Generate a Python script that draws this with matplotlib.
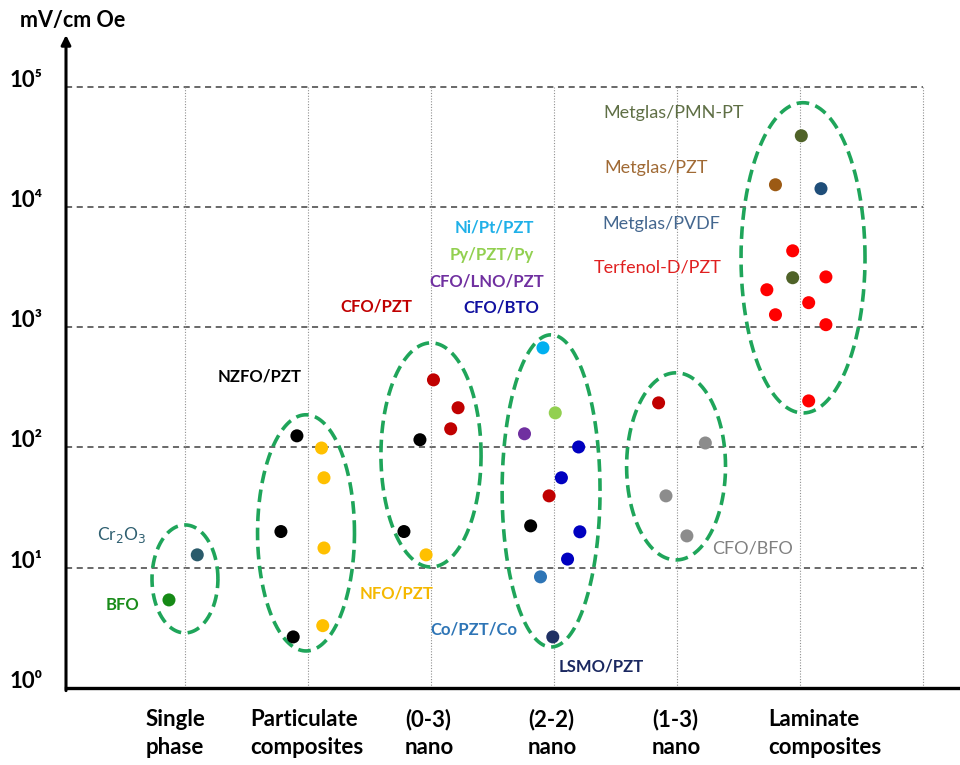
import numpy as np
import matplotlib
matplotlib.use("Agg")
import matplotlib.pyplot as plt

plt.rcParams['font.family'] = ['Lato', 'DejaVu Sans']

# ---------------- data ----------------
categories = ["Single\nphase", "Particulate\ncomposites", "(0-3)\nnano",
              "(2-2)\nnano", "(1-3)\nnano", "Laminate\ncomposites"]
yticks = [1, 10, 100, 1e3, 1e4, 1e5]
ytick_labels = ["10⁰", "10¹", "10²", "10³", "10⁴", "10⁵"]

bfo_x, bfo_y = [-0.13], [5.4]
cr2o3_x, cr2o3_y = [0.10], [12.8]
nzfo_x = [0.91, 0.78, 0.88, 1.91, 1.78, 2.81]
nzfo_y = [125, 20, 2.66, 116, 20, 22.3]
nfo_x = [1.11, 1.13, 1.13, 1.12, 1.96]
nfo_y = [99, 56, 14.6, 3.3, 12.8]
cfo_pzt_x = [2.02, 2.22, 2.16, 2.96, 3.85]
cfo_pzt_y = [365, 214, 143, 39.6, 235]
nipt_x, nipt_y = [2.91], [674]
py_x, py_y = [3.01], [194]
cfo_lno_x, cfo_lno_y = [2.76], [130]
cfo_bto_x = [3.20, 3.06, 3.21, 3.11]
cfo_bto_y = [101, 56, 19.9, 11.8]
co_x, co_y = [2.89], [8.4]
lsmo_x, lsmo_y = [2.99], [2.66]
cfo_bfo_x = [4.23, 3.91, 4.08]
cfo_bfo_y = [109, 39.6, 18.4]
mg_pmn_x, mg_pmn_y = [5.01, 4.94], [39100, 2580]
mg_pzt_x, mg_pzt_y = [4.80], [15300]
mg_pvdf_x, mg_pvdf_y = [5.17], [14200]
terf_x = [4.94, 5.21, 4.73, 5.07, 4.80, 5.21, 5.07]
terf_y = [4320, 2620, 2050, 1600, 1270, 1050, 244]

# ellipse groups: center x, half width, log10 center, half height (decades)
ell_cx = [0.0, 0.984, 2.0, 2.976, 3.992, 5.024]
ell_a = [0.268, 0.394, 0.407, 0.398, 0.402, 0.504]
ell_logc = [0.907, 1.290, 1.938, 1.639, 1.843, 3.577]
ell_b = [0.449, 0.982, 0.932, 1.298, 0.778, 1.290]

# ---------------- figure ----------------
fig = plt.figure(figsize=(9.6, 7.65), dpi=100)
ax = fig.add_axes([66/960, 77/765, 1 - 66/960, 653/765])
ax.set_yscale('log')
ax.set_xlim(-0.967, 6.3)
ax.set_ylim(1, 10**5.43)

# grid
for yv in yticks[1:]:
    ax.plot([-0.967, 6.0], [yv, yv], color='#404040', lw=1.1,
            dashes=(4, 3), zorder=1)
for xv in range(7):
    ax.plot([xv, xv], [1, 1e5], color='#909090', lw=0.8,
            ls=(0, (1, 1.5)), zorder=1)

# ellipses
t = np.linspace(0, 2*np.pi, 300)
for cx, a, lc, b in zip(ell_cx, ell_a, ell_logc, ell_b):
    ax.plot(cx + a*np.cos(t), 10**(lc + b*np.sin(t)), color='#1fa55a',
            lw=2.6, dashes=(3.5, 1.8), zorder=2)

series = [
    (bfo_x, bfo_y, '#168a16'),
    (cr2o3_x, cr2o3_y, '#2b5b6b'),
    (nzfo_x, nzfo_y, '#000000'),
    (nfo_x, nfo_y, '#ffc000'),
    (cfo_pzt_x, cfo_pzt_y, '#c00000'),
    (nipt_x, nipt_y, '#00b0f0'),
    (py_x, py_y, '#92d050'),
    (cfo_lno_x, cfo_lno_y, '#7030a0'),
    (cfo_bto_x, cfo_bto_y, '#0000c0'),
    (co_x, co_y, '#2e75b6'),
    (lsmo_x, lsmo_y, '#1f3064'),
    (cfo_bfo_x, cfo_bfo_y, '#8c8c8c'),
    (mg_pmn_x, mg_pmn_y, '#4f6228'),
    (mg_pzt_x, mg_pzt_y, '#9c5a14'),
    (mg_pvdf_x, mg_pvdf_y, '#1f4e79'),
    (terf_x, terf_y, '#ff0000'),
]
for xs, ys, c in series:
    ax.scatter(xs, ys, s=88, color=c, edgecolors='none', zorder=3)

# labels: text, x, log10(y), colour, weight, size
labels = [
    ("Cr$_2$O$_3$", -0.512, 1.273, '#2f5f70', 'normal', 12.5),
    ("BFO", -0.504, 0.691, '#1a8c1a', 'bold', 12),
    ("NZFO/PZT", 0.610, 2.587, '#000000', 'bold', 12),
    ("NFO/PZT", 1.724, 0.782, '#f5b800', 'bold', 12),
    ("CFO/PZT", 1.553, 3.170, '#c00000', 'bold', 12),
    ("Ni/Pt/PZT", 2.512, 3.827, '#1fb0e8', 'bold', 12),
    ("Py/PZT/Py", 2.496, 3.602, '#92d050', 'bold', 12),
    ("CFO/LNO/PZT", 2.455, 3.378, '#7030a0', 'bold', 12),
    ("CFO/BTO", 2.569, 3.161, '#1010a0', 'bold', 12),
    ("Co/PZT/Co", 2.350, 0.483, '#2e75b6', 'bold', 12),
    ("LSMO/PZT", 3.382, 0.175, '#1a2860', 'bold', 12),
    ("CFO/BFO", 4.610, 1.156, '#808080', 'normal', 13),
    ("Metglas/PMN-PT", 3.976, 4.784, '#5f6f45', 'normal', 13),
    ("Metglas/PZT", 3.829, 4.326, '#a06a35', 'normal', 13),
    ("Metglas/PVDF", 3.870, 3.860, '#44678f', 'normal', 13),
    ("Terfenol-D/PZT", 3.846, 3.494, '#e02020', 'normal', 13),
]
for txt, lx, ly, c, w, fs in labels:
    ax.text(lx, 10**ly, txt, color=c, fontsize=fs, fontweight=w,
            ha='center', va='center', zorder=4)

# axes styling
ax.set_yticks(yticks)
ax.set_yticklabels(ytick_labels, fontsize=16, fontweight='bold',
                   va='baseline')
ax.yaxis.set_minor_locator(matplotlib.ticker.NullLocator())
ax.tick_params(axis='y', length=0, pad=17)
ax.set_xticks([])
for s in ['top', 'right', 'left']:
    ax.spines[s].set_visible(False)
ax.spines['bottom'].set_linewidth(2.4)
ax.annotate('', xy=(0, 1.0), xytext=(0, -0.004), xycoords='axes fraction',
            arrowprops=dict(arrowstyle='-|>', lw=2.2, color='black',
                            mutation_scale=14, shrinkA=0, shrinkB=0))
fig.text(20/960, 1 - 21/765, "mV/cm Oe", fontsize=15.5,
         fontweight='bold', ha='left', va='center')

label_offsets = [-0.317, -0.47, -0.211, -0.211, -0.203, -0.26]
for i, (cat, off) in enumerate(zip(categories, label_offsets)):
    ax.text(i + off, -0.032, cat, transform=ax.get_xaxis_transform(),
            fontsize=16, fontweight='bold', ha='left', va='top',
            linespacing=1.4)

fig.savefig("out.png", dpi=100)
